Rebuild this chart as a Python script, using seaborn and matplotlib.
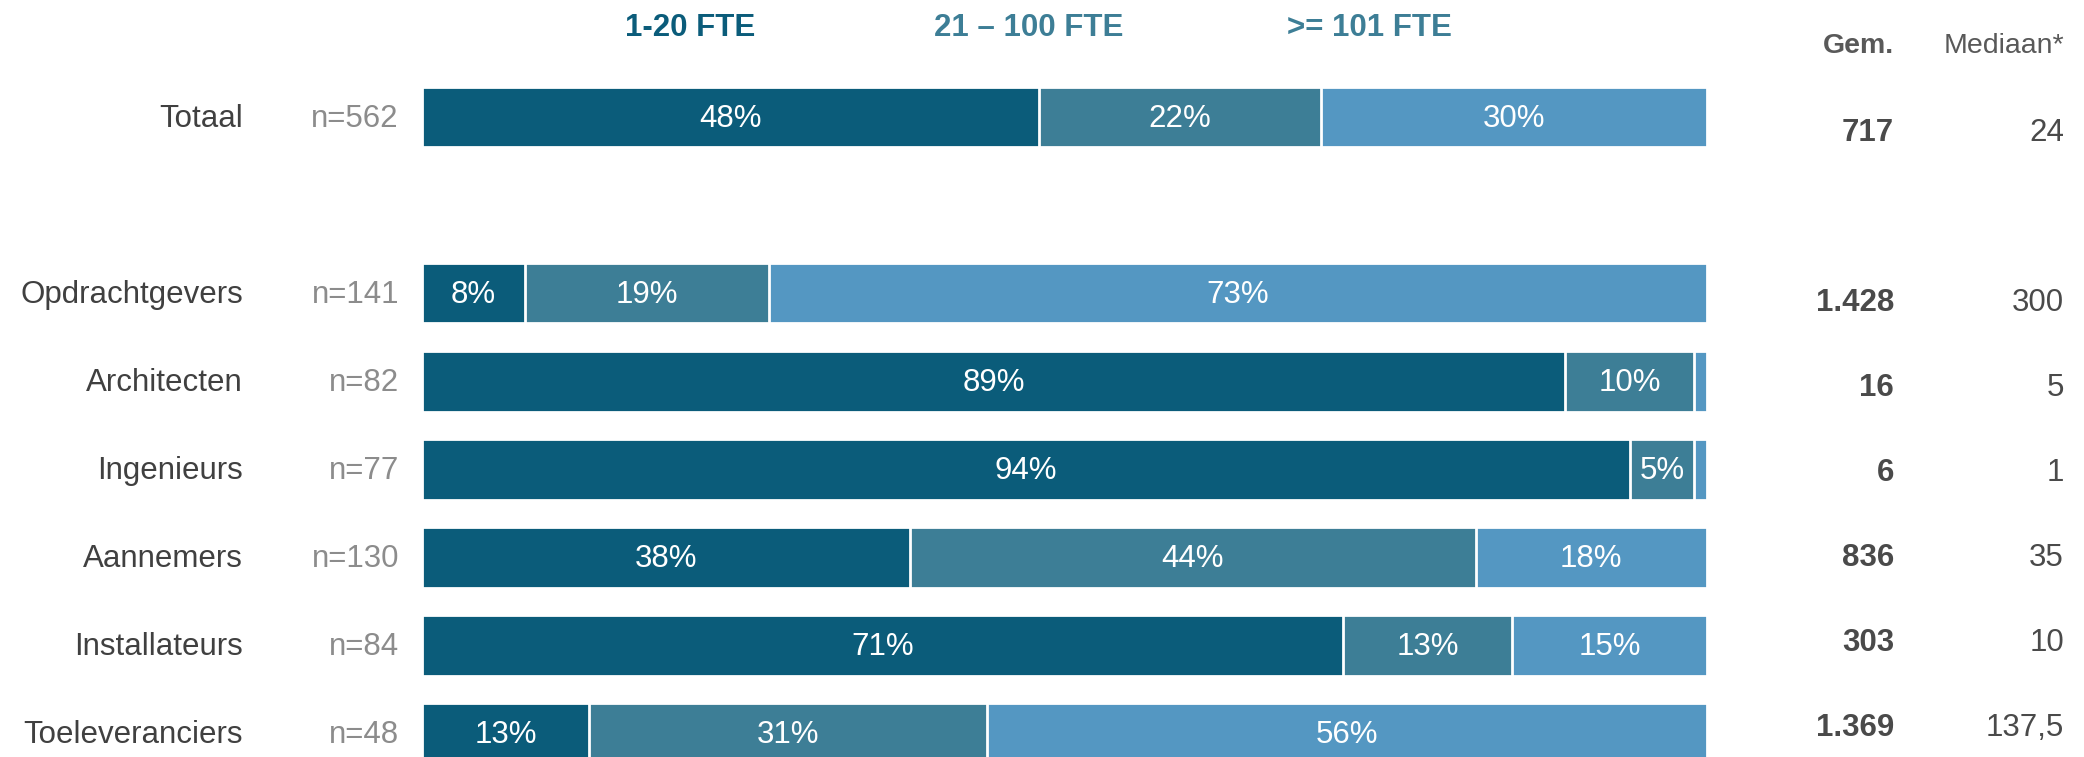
import matplotlib
matplotlib.use("Agg")
import matplotlib.pyplot as plt
import matplotlib.transforms as mtransforms
import seaborn as sns
import pandas as pd
import numpy as np

# data
groepen = ['Totaal', 'Opdrachtgevers', 'Architecten', 'Ingenieurs',
           'Aannemers', 'Installateurs', 'Toeleveranciers']
n_resp = [562, 141, 82, 77, 130, 84, 48]
fte_1_20 = [48, 8, 89, 94, 38, 71, 13]
fte_21_100 = [22, 19, 10, 5, 44, 13, 31]
fte_101 = [30, 73, 1, 1, 18, 15, 56]
gem = ['717', '1.428', '16', '6', '836', '303', '1.369']
mediaan = ['24', '300', '5', '1', '35', '10', '137,5']
klassen = ['1-20 FTE', '21 – 100 FTE', '>= 101 FTE']

kleuren = ['#0b5c7a', '#3d7e96', '#5497c2']
klass_tekst = ['#0b5c7a', '#3d7e96', '#3d7e96']

sns.set_style('white')
plt.rcParams['font.family'] = ['Liberation Sans', 'DejaVu Sans']

df = pd.DataFrame({'groep': groepen, 'n': n_resp,
                   'a': fte_1_20, 'b': fte_21_100, 'c': fte_101})
tot = df[['a', 'b', 'c']].sum(axis=1)
df['pa'] = df['a'] / tot * 100
df['pb'] = df['b'] / tot * 100
df['pc'] = df['c'] / tot * 100
df['cum1'] = df['pa']
df['cum2'] = df['pa'] + df['pb']
df['cum3'] = df['cum2'] + df['pc']

volgorde = [groepen[0], ' '] + groepen[1:]

fig = plt.figure(figsize=(20.84, 7.57), dpi=100)
ax = fig.add_axes([0.2025, 0.0, 0.6165, 1.0])

for kol, kleur in zip(['cum3', 'cum2', 'cum1'], kleuren[::-1]):
    sns.barplot(data=df, x=kol, y='groep', order=volgorde, orient='h',
                color=kleur, saturation=1, width=0.69, edgecolor='white',
                linewidth=2, ax=ax)

ax.set_xlim(0, 100)
ax.set_ylim(7.27, -1.33)
ax.set_xlabel('')
ax.set_ylabel('')
ax.set_xticks([])
ax.set_yticks([])
sns.despine(ax=ax, left=True, bottom=True)

pos = {g: volgorde.index(g) for g in groepen}
trans = mtransforms.blended_transform_factory(fig.transFigure, ax.transData)

for i, row in df.iterrows():
    y = pos[row['groep']]
    # segment labels
    starts = [0, row['cum1'], row['cum2']]
    for s, w, v in zip(starts, [row['pa'], row['pb'], row['pc']],
                       [row['a'], row['b'], row['c']]):
        if v >= 3:
            ax.text(s + w / 2, y + 0.02, f'{v}%', ha='center', va='center',
                    color='white', fontsize=22.5)
    ax.text(243 / 2084, y + 0.02, row['groep'], transform=trans, ha='right',
            va='center', fontsize=22.5, color='#404040')
    ax.text(399 / 2084, y + 0.02, f"n={row['n']}", transform=trans,
            ha='right', va='center', fontsize=22.5, color='#8c8c8c')
    ty = 0.18 + 0.965 * y
    ax.text(1894 / 2084, ty, gem[i], transform=trans, ha='right',
            va='center', fontsize=22.5, color='#4a4a4a', fontweight='bold')
    ax.text(2064 / 2084, ty, mediaan[i], transform=trans, ha='right',
            va='center', fontsize=22.5, color='#4a4a4a')

ax.text(1894 / 2084, -0.81, 'Gem.', transform=trans, ha='right',
        va='center', fontsize=20.5, color='#595959', fontweight='bold')
ax.text(2064 / 2084, -0.81, 'Mediaan*', transform=trans, ha='right',
        va='center', fontsize=20.5, color='#595959')

for lab, xc, kl in zip(klassen, [690, 1029, 1369], klass_tekst):
    fig.text(xc / 2084, 1 - 28 / 757, lab, ha='center', va='center',
             fontsize=22.5, fontweight='bold', color=kl,
             family=['Liberation Sans Narrow', 'Liberation Sans'])

fig.savefig('out.png', dpi=100)
